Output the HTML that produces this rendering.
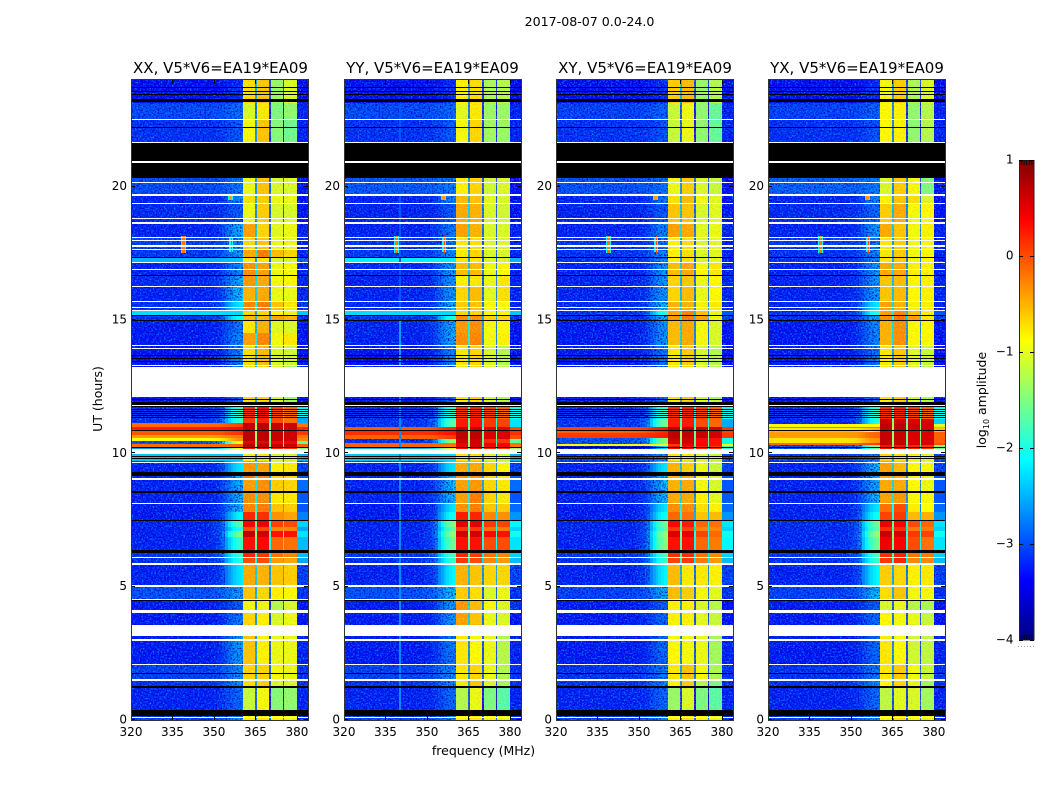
<!DOCTYPE html>
<html lang="en">
<head>
<meta charset="utf-8">
<title>2017-08-07 0.0-24.0</title>
<style>
html,body{margin:0;padding:0;background:#fff;width:1050px;height:800px;overflow:hidden}
svg{display:block}
text{font-family:"DejaVu Sans","Liberation Sans",sans-serif;fill:#000}
</style>
</head>
<body>
<svg id="chart" xmlns="http://www.w3.org/2000/svg" width="1050" height="800" viewBox="0 0 1050 800">
<defs>
<filter id="speckle0" x="0" y="0" width="100%" height="100%" color-interpolation-filters="sRGB"><feTurbulence type="fractalNoise" baseFrequency="0.62" numOctaves="2" seed="3" result="n"/><feColorMatrix in="n" type="matrix" values="0 0 0 0 0  0 0 0 0 0.55  0 0 0 0 1  3.2 0 0 0 -1.5" result="a"/><feColorMatrix in="n" type="matrix" values="0 0 0 0 0  0 0 0 0 0  0 0 0 0 0.72  0 3.2 0 0 -1.5" result="b"/><feMerge><feMergeNode in="a"/><feMergeNode in="b"/></feMerge></filter>
<filter id="speckle1" x="0" y="0" width="100%" height="100%" color-interpolation-filters="sRGB"><feTurbulence type="fractalNoise" baseFrequency="0.62" numOctaves="2" seed="11" result="n"/><feColorMatrix in="n" type="matrix" values="0 0 0 0 0  0 0 0 0 0.55  0 0 0 0 1  3.2 0 0 0 -1.5" result="a"/><feColorMatrix in="n" type="matrix" values="0 0 0 0 0  0 0 0 0 0  0 0 0 0 0.72  0 3.2 0 0 -1.5" result="b"/><feMerge><feMergeNode in="a"/><feMergeNode in="b"/></feMerge></filter>
<filter id="speckle2" x="0" y="0" width="100%" height="100%" color-interpolation-filters="sRGB"><feTurbulence type="fractalNoise" baseFrequency="0.62" numOctaves="2" seed="23" result="n"/><feColorMatrix in="n" type="matrix" values="0 0 0 0 0  0 0 0 0 0.55  0 0 0 0 1  3.2 0 0 0 -1.5" result="a"/><feColorMatrix in="n" type="matrix" values="0 0 0 0 0  0 0 0 0 0  0 0 0 0 0.72  0 3.2 0 0 -1.5" result="b"/><feMerge><feMergeNode in="a"/><feMergeNode in="b"/></feMerge></filter>
<filter id="speckle3" x="0" y="0" width="100%" height="100%" color-interpolation-filters="sRGB"><feTurbulence type="fractalNoise" baseFrequency="0.62" numOctaves="2" seed="37" result="n"/><feColorMatrix in="n" type="matrix" values="0 0 0 0 0  0 0 0 0 0.55  0 0 0 0 1  3.2 0 0 0 -1.5" result="a"/><feColorMatrix in="n" type="matrix" values="0 0 0 0 0  0 0 0 0 0  0 0 0 0 0.72  0 3.2 0 0 -1.5" result="b"/><feMerge><feMergeNode in="a"/><feMergeNode in="b"/></feMerge></filter>
<filter id="speckleBand" x="0" y="0" width="100%" height="100%" color-interpolation-filters="sRGB"><feTurbulence type="fractalNoise" baseFrequency="0.7" numOctaves="1" seed="5" result="n"/><feColorMatrix in="n" type="matrix" values="0 0 0 0 1  0 0 0 0 0.5  0 0 0 0 0  2.6 0 0 0 -1.25" result="a"/><feColorMatrix in="n" type="matrix" values="0 0 0 0 0.85  0 0 0 0 1  0 0 0 0 0.2  0 2.6 0 0 -1.2" result="b"/><feMerge><feMergeNode in="a"/><feMergeNode in="b"/></feMerge></filter>
<linearGradient id="jetGradient" x1="0" y1="1" x2="0" y2="0"></linearGradient>
</defs>
<text x="589.5" y="26" font-size="12.6" text-anchor="middle">2017-08-07 0.0-24.0</text>
<text x="220.5" y="73" font-size="15" text-anchor="middle">XX, V5*V6=EA19*EA09</text>
<text x="432.5" y="73" font-size="15" text-anchor="middle">YY, V5*V6=EA19*EA09</text>
<text x="645" y="73" font-size="15" text-anchor="middle">XY, V5*V6=EA19*EA09</text>
<text x="857" y="73" font-size="15" text-anchor="middle">YX, V5*V6=EA19*EA09</text>
<text x="102" y="399" font-size="12.5" text-anchor="middle" transform="rotate(-90 102 399)">UT (hours)</text>
<text x="483.5" y="755" font-size="12.5" text-anchor="middle">frequency (MHz)</text>
<text x="986" y="400" font-size="12.5" text-anchor="middle" transform="rotate(-90 986 400)">log<tspan font-size="8" dy="3">10</tspan><tspan dy="-3"> amplitude</tspan></text>
<g id="panels"></g>
<g id="colorbar"></g>
</svg>
<script>
// Axis settings and tick labels
const xTicks = [320, 335, 350, 365, 380];
const yTicks = [0, 5, 10, 15, 20];
const colorbarTicks = [1, 0, -1, -2, -3, -4];
const colorbarCombSlots = [0, 1, 2, 3, 4];
const panelLeft = [131, 344, 556, 768];

// Frequency structure (MHz): four bright subbands with narrow gaps between them
const subbandEdges = [[360.5, 365], [365.5, 370], [370.5, 375], [375.5, 380]];
const gapDrop = [2.0, 2.2, 2.0];
const subbandBias = -0.08;
const quietLowBias = -0.15;
const quietEdgeBias = -0.35;
// Rise of the band-edge skirt per MHz from 344 MHz to 360 MHz
const skirtProfile = [0, 0, 0, 0, 0.02, 0.05, 0.08, 0.12, 0.2, 0.3, 0.45, 0.6, 0.72, 0.82, 0.9, 0.95, 1];

// Flagged time ranges shared by every polarization [start hour, end hour]
const whiteBands = [[0.08,0.12],[1.46,1.54],[2.06,2.1],[2.96,3.04],[3.15,3.55],[4.01,4.12],[4.52,4.55],[5,5.06],[5.83,5.89],[6.07,6.11],[8.1,8.14],[9,9.06],[9.64,9.69],[9.99,10.17],[11.77,11.81],[12.11,13.24],[13.28,13.31],[13.91,13.95],[14.02,14.06],[15.34,15.38],[15.43,15.47],[15.67,15.71],[16.26,16.29],[16.88,16.92],[17.14,17.17],[17.62,17.66],[17.73,17.8],[17.97,18.01],[18.06,18.1],[18.58,18.62],[18.64,18.68],[18.78,18.82],[19.36,19.4],[19.66,19.71],[20.14,20.18],[20.9,20.95],[21.62,21.66],[22.48,22.52]];
const blackBands = [[0.15,0.37],[1.2,1.27],[1.72,1.76],[4.47,4.51],[6.28,6.38],[7.46,7.5],[8.53,8.57],[9.15,9.3],[9.79,9.82],[9.86,9.89],[10.2,10.24],[10.83,10.86],[11.33,11.36],[11.41,11.44],[11.48,11.51],[11.56,11.59],[11.63,11.66],[11.72,11.77],[11.81,11.94],[12.01,12.04],[13.42,13.46],[13.54,13.57],[13.65,13.69],[14.96,15],[15.15,15.19],[16.65,16.69],[17.32,17.36],[20.32,20.9],[20.95,21.62],[22.19,22.23],[23.16,23.28],[23.42,23.46],[23.54,23.58],[23.69,23.73]];

// Interference features: [first MHz, last MHz, start hour, end hour, log amplitude]
const interference = [[338,340,17.5,18.15,-2.1],[338.5,339.5,17.5,18.15,-0.2],[355.5,357,17.55,18.1,-2.1],[356,356.5,17.5,18.15,0],[355,357,19.5,19.7,-2],[355.5,356.5,19.5,19.7,-0.4]];
const verticalLineYY = [[340,340.5,0.37,12.1,-2.7],[340,340.5,13.3,15,-2.6],[340,340.5,15.4,23.1,-2.95]];

// Time rows per polarization: [start hour, end hour, low band, skirt, subband 1-4, upper edge] in log10 amplitude
const rowsXX = [
[0,.37,-2.9,-2.6,-.8,-.7,-.8,-.9,-2.8],[.37,1.27,-3.1,-2.8,-1.1,-.85,-1.45,-1.4,-2.9],[1.27,1.5,-3,-2.6,-.65,-.55,-1,-1,-2.8],[1.5,2.06,-2.9,-2.6,-.6,-.6,-.85,-.9,-2.8],[2.06,3.15,-3.15,-2.5,-.5,-.75,-.9,-.9,-2.9],[3.15,4.01,-3.15,-2.7,-.6,-.75,-1,-.9,-3],[4.01,4.5,-3.15,-2.9,-.85,-.9,-1.2,-1,-3],[4.5,5.02,-2.8,-2.5,-.5,-.6,-.75,-.8,-2.8],[5.02,5.85,-3.1,-2.2,-.35,-.4,-.5,-.55,-2.7],[5.85,6.07,-3,-1.9,0,0,-.3,-.35,-2.2],[6.07,6.37,-3,-1.8,.2,.1,-.1,-.2,-2.1],[6.37,6.86,-3.1,-1.8,.3,.35,-.05,-.1,-2.1],[6.86,7.09,-3.1,-1.4,.7,.6,.3,.3,-1.9],[7.09,7.24,-3.1,-1.9,0,0,-.2,-.2,-2.2],[7.24,7.5,-3.1,-1.6,.4,.45,.05,0,-2],[7.5,7.8,-3.15,-2.1,.2,.15,-.25,-.35,-2.4],[7.8,8.14,-3.15,-2.3,-.15,-.1,-.5,-.55,-2.6],[8.14,8.55,-3.1,-2.4,-.2,-.2,-.7,-.7,-2.6],[8.55,9,-3.1,-2.4,-.3,-.2,-.55,-.6,-2.5],[9,9.26,-3.1,-2.4,-.1,-.2,-.6,-.6,-2.6],[9.26,9.71,-3.1,-2.2,-.25,-.3,-.75,-.7,-2.7],[9.71,10.17,-2.4,-2.4,-.75,-.7,-1,-1,-2.5],
[10.17,10.22,-2.6,-1,.3,.3,.2,.1,-1.5],[10.22,10.35,-.15,-.1,.7,.7,.65,.6,-.1],[10.35,10.47,-2.8,-.8,.5,.5,.4,.4,-1.3],[10.47,10.57,-.9,-.3,.7,.7,.65,.6,-.3],[10.57,10.69,-.4,-.2,.7,.7,.65,.6,-.2],[10.69,10.84,-.05,.15,.7,.7,.65,.6,.1],[10.84,11,.25,.35,.7,.7,.65,.6,.2],[11,11.15,-.15,.05,.7,.7,.65,.6,-.2],[11.15,11.31,-3,-1.8,.1,.2,0,-.1,-2.2],
[11.31,11.8,-3,-1.8,.15,.3,.05,-.05,-1.7],[11.8,13.31,-3.2,-2.8,-.65,-.6,-1,-1.3,-3],[13.31,14.02,-3.2,-2.6,-.65,-.45,-1,-1.05,-3],[14.02,14.51,-3.15,-2.6,-.3,-.15,-.85,-.7,-3],[14.51,14.96,-3.15,-2.7,-.7,-.4,-.95,-1,-3],[14.96,15.15,-3,-2,-.45,-.45,-.3,-.4,-2.8],[15.15,15.34,-2.3,-2.3,-.6,-.6,-.8,-.9,-2.4],[15.34,15.71,-3,-2.2,-.15,-.1,-.5,-.7,-2.8],[15.71,16.24,-3.1,-2.3,-.4,-.35,-.9,-.9,-2.9],[16.24,16.65,-3.05,-2.4,-.25,-.35,-.85,-.8,-2.9],[16.65,17.14,-3.1,-2.6,-.2,-.3,-.9,-.85,-2.9],[17.14,17.36,-2.5,-2.4,-.7,-.7,-1,-1,-2.8],[17.36,17.66,-2.95,-2.5,-.35,-.1,-.45,-.6,-2.9],[17.66,18.07,-2.9,-2.6,-.6,-.5,-.9,-.9,-2.9],[18.07,18.6,-3.1,-2.4,-.3,-.6,-.95,-.9,-2.9],[18.6,19.39,-3.05,-2.9,-.9,-.55,-1,-1,-3],[19.39,19.69,-3.1,-2.6,-.65,-.55,-.9,-.9,-3],[19.69,20.32,-2.85,-2.7,-.9,-.5,-1,-1,-3],[20.32,22.5,-3,-2.9,-.85,-.5,-1.45,-1.6,-2.9],[22.5,23.13,-2.85,-2.8,-1,-.7,-1.5,-1.4,-2.9],[23.13,24,-3.25,-3.2,-.65,-.5,-1.35,-1,-3.1]];
const rowsYY = [
[0,.37,-2.9,-2.6,-.8,-.7,-.8,-.9,-2.8],[.37,1.27,-3.1,-2.8,-1.2,-.9,-1.5,-1.7,-2.9],[1.27,1.5,-3,-2.6,-.7,-.5,-1,-1.3,-2.8],[1.5,2.06,-2.9,-2.6,-.7,-.6,-.9,-1.2,-2.8],[2.06,3.15,-3.15,-2.7,-.7,-.8,-.9,-1.2,-2.9],[3.15,4.01,-3.15,-2.5,-.3,-.5,-.9,-1,-3],[4.01,4.5,-3.15,-2.5,-.25,-.45,-.8,-1,-2.8],[4.5,5.02,-2.8,-2.3,-.55,-.65,-1,-.9,-2.8],[5.02,5.85,-3.1,-2.1,-.4,-.5,-.6,-.6,-2.7],[5.85,6.07,-3,-1.8,.1,0,-.2,-.3,-2.1],[6.07,6.37,-3,-1.7,.2,.1,-.1,-.2,-2],[6.37,6.86,-3.1,-1.5,.3,.3,0,0,-1.9],[6.86,7.09,-3.1,-1.3,.6,.6,.35,.3,-1.7],[7.09,7.24,-3.1,-1.6,.1,.1,-.1,-.15,-2],[7.24,7.5,-3.1,-1.4,.5,.5,.1,.05,-1.8],[7.5,7.8,-3.15,-2,.25,.2,-.2,-.25,-2.3],[7.8,8.14,-3.15,-2.2,-.2,-.1,-.5,-.55,-2.5],[8.14,8.55,-3.1,-2.3,-.3,-.1,-.6,-.7,-2.6],[8.55,9,-3.1,-2.3,-.3,-.25,-.6,-.7,-2.5],[9,9.26,-3.1,-2.3,-.2,-.2,-.6,-.7,-2.6],[9.26,9.71,-3.1,-2.2,-.35,-.35,-.6,-.8,-2.7],[9.71,10.16,-2.4,-2.3,-.7,-.65,-1,-1.1,-2.5],
[10.16,10.22,-2.5,-1,.3,.3,.2,.1,-1.4],[10.22,10.37,-.1,-.2,.5,.6,.45,.4,-.2],[10.37,10.53,-3,-1.3,.6,.6,.2,.1,-1.3],[10.53,10.69,-.1,.1,.7,.7,.55,.55,0],[10.69,10.85,.15,.3,.7,.7,.55,.55,.15],[10.85,10.97,-.05,.2,.65,.65,.5,.5,0],[10.97,11.27,-3,-1.6,.25,.3,.1,.05,-1.9],
[11.27,11.8,-3,-1.8,.1,.2,.05,-.05,-1.7],[11.8,13.31,-3.2,-2.8,-.7,-.6,-1,-1.2,-3],[13.31,14.02,-3.2,-2.6,-.7,-.6,-1,-1.2,-3],[14.02,14.51,-3.1,-2.4,-.2,-.15,-.85,-.75,-3],[14.51,14.96,-3.1,-2.4,-.25,-.2,-.85,-.8,-3],[14.96,15.15,-3,-1.9,-.2,-.2,-.6,-.6,-2.8],[15.15,15.34,-2.3,-2.3,-.6,-.6,-.8,-.8,-2.4],[15.34,15.71,-3.05,-2.4,-.55,-.5,-.8,-.8,-2.9],[15.71,16.24,-3.1,-2.5,-.6,-.45,-.95,-.65,-2.9],[16.24,16.65,-3.1,-2.5,-.75,-.7,-.9,-.7,-2.9],[16.65,17.14,-3.05,-2.5,-.45,-.45,-.9,-.8,-2.9],[17.14,17.36,-2.2,-2.2,-.7,-.7,-1,-1,-2.5],[17.36,17.66,-2.95,-2.6,-.7,-.6,-1,-1,-2.9],[17.66,18.07,-3,-2.7,-.7,-.65,-1,-1,-2.9],[18.07,18.6,-3.1,-2.7,-.3,-.4,-1,-1,-2.9],[18.6,19.39,-3.1,-2.9,-.35,-.4,-1,-1.05,-3],[19.39,19.69,-3.1,-2.6,-.45,-.5,-.95,-1,-3],[19.69,20.32,-2.75,-2.7,-.75,-.6,-1.05,-1,-3],[20.32,22.5,-3,-2.9,-.85,-.6,-1.3,-1.35,-2.9],[22.5,23.13,-2.85,-2.8,-.95,-.7,-1.35,-1.35,-2.9],[23.13,24,-3.25,-3.2,-.75,-.65,-1.25,-1.2,-3.1]];
const rowsXY = [
[0,.37,-2.9,-2.6,-.8,-.7,-.8,-.9,-2.8],[.37,1.27,-3.1,-2.8,-1.35,-1,-1.5,-1.7,-2.9],[1.27,1.5,-3,-2.6,-.8,-.55,-1.2,-1.5,-2.8],[1.5,2.06,-3,-2.7,-.7,-.5,-.85,-1.25,-2.8],[2.06,3.15,-3.15,-2.8,-.8,-.85,-.9,-1.3,-2.9],[3.15,4.01,-3.15,-2.8,-.75,-.75,-.95,-1.1,-3],[4.01,4.5,-3.15,-2.9,-.75,-.75,-1,-1.2,-3],[4.5,5.02,-2.9,-2.4,-.45,-.55,-.85,-.95,-2.8],[5.02,5.85,-3.1,-2.1,-.45,-.7,-.7,-.75,-2.7],[5.85,6.07,-3,-1.8,.05,.1,-.15,-.3,-2.1],[6.07,6.37,-3,-1.7,.15,.15,-.1,-.2,-2],[6.37,6.86,-3.1,-1.4,.3,.3,-.05,-.15,-1.8],[6.86,7.09,-3.1,-1.3,.55,.5,.05,-.05,-1.7],[7.09,7.24,-3.1,-1.6,.1,.05,-.2,-.2,-2],[7.24,7.5,-3.1,-1.5,.35,.25,-.05,-.1,-1.9],[7.5,7.8,-3.15,-2,-.05,-.1,-.5,-.45,-2.3],[7.8,8.14,-3.15,-2.2,-.2,-.2,-.65,-.75,-2.5],[8.14,8.55,-3.1,-2.3,-.35,-.35,-.75,-.95,-2.6],[8.55,9,-3.1,-2.3,-.4,-.35,-.85,-1,-2.6],[9,9.26,-3.1,-2.4,-.4,-.35,-.85,-1,-2.6],[9.26,9.71,-3.1,-2.2,-.4,-.55,-.9,-1.1,-2.7],[9.71,10.16,-2.9,-2.6,-.7,-.7,-1,-1.1,-2.7],
[10.16,10.27,-3.6,-2.2,.3,.3,.2,.1,-1.5],[10.27,10.34,-.85,-1,.1,.5,.4,.3,-.9],[10.34,10.56,-2.8,-1.4,.6,.6,.35,.3,-1.7],[10.56,10.75,.1,.25,.7,.7,.65,.6,.1],[10.75,10.85,-.1,.2,.7,.7,.65,.6,.05],[10.85,10.97,.05,.25,.7,.7,.65,.6,.1],[10.97,11.29,-3,-1.5,.25,.25,0,-.05,-2.2],
[11.29,11.8,-3,-1.8,.15,.2,.05,-.05,-1.7],[11.8,13.31,-3.2,-2.8,-.7,-.55,-1,-1.2,-3],[13.31,14.02,-3.15,-2.7,-.7,-.55,-1,-1.2,-3],[14.02,14.96,-3.15,-2.5,-.45,-.35,-.85,-1,-3],[14.96,15.15,-3.05,-2.4,-.25,-.1,-.3,-.9,-2.7],[15.15,15.34,-3,-1.9,-.35,-.15,-.5,-.9,-2.6],[15.34,15.71,-3.05,-2.3,-.4,-.4,-.75,-.7,-2.9],[15.71,16.24,-3.1,-2.5,-.6,-.45,-.9,-.8,-2.9],[16.24,16.65,-3.1,-2.5,-.6,-.5,-.9,-.8,-2.9],[16.65,17.14,-3.1,-2.5,-.45,-.35,-.8,-.7,-2.9],[17.14,17.36,-3,-2.6,-.75,-.65,-1,-.95,-2.9],[17.36,17.66,-3,-2.6,-.75,-.65,-1,-.95,-2.9],[17.66,18.07,-3,-2.7,-.75,-.65,-1,-.95,-2.9],[18.07,18.6,-3.1,-2.6,-.3,-.35,-.95,-.9,-2.9],[18.6,19.39,-3.1,-2.9,-.5,-.5,-1,-.95,-3],[19.39,19.69,-3.1,-2.7,-.65,-.45,-.85,-.95,-3],[19.69,20.32,-2.8,-2.75,-.9,-.55,-1,-1.1,-3],[20.32,22.5,-3,-2.95,-1.1,-.9,-1.4,-1.65,-2.9],[22.5,23.13,-2.9,-2.85,-1.1,-.9,-1.4,-1.65,-2.9],[23.13,24,-3.25,-3.2,-.55,-.45,-1.35,-1.2,-3.1]];
const rowsYX = [
[0,.37,-2.9,-2.6,-.8,-.7,-.8,-.9,-2.8],[.37,1.27,-3.1,-2.8,-1.15,-.95,-1,-1.3,-2.9],[1.27,1.5,-3,-2.6,-.8,-.6,-.95,-1.3,-2.8],[1.5,2.06,-3,-2.7,-.7,-.55,-.85,-1.1,-2.8],[2.06,3.15,-3.15,-2.8,-.7,-.8,-1.05,-1.15,-2.9],[3.15,4.01,-3.15,-2.8,-.8,-.85,-.9,-1.1,-3],[4.01,4.5,-3.15,-2.9,-1,-.9,-1.2,-1.25,-3],[4.5,5.02,-2.9,-2.3,-.65,-.5,-.85,-.85,-2.8],[5.02,5.85,-3.1,-2.1,-.55,-.6,-.75,-.7,-2.7],[5.85,6.07,-3,-1.8,.1,.2,-.2,-.2,-2.1],[6.07,6.37,-3,-1.7,.15,.2,-.1,-.15,-2],[6.37,6.86,-3.05,-1.5,.45,.4,0,-.1,-1.9],[6.86,7.09,-3.05,-1.3,.65,.6,.1,.05,-1.7],[7.09,7.24,-3.05,-1.6,.15,.15,-.15,-.15,-2],[7.24,7.5,-3.05,-1.5,.45,.4,0,-.05,-1.9],[7.5,7.8,-3.1,-2,.05,.1,-.45,-.4,-2.3],[7.8,8.14,-3.1,-2.2,-.1,0,-.7,-.8,-2.5],[8.14,8.55,-3.1,-2.3,-.3,-.25,-.8,-.8,-2.6],[8.55,9,-3.1,-2.4,-.35,-.35,-.8,-.9,-2.6],[9,9.26,-3.1,-2.4,-.35,-.35,-.8,-.9,-2.6],[9.26,9.71,-3.1,-2.3,-.3,-.45,-.8,-.85,-2.7],[9.71,10.16,-2.9,-2.7,-.6,-.65,-.85,-1,-2.7],
[10.16,10.31,-2.8,-1.5,.3,.3,.2,.1,-1.2],[10.31,10.4,-.15,.1,.65,.65,.55,.55,0],[10.4,10.56,-.75,-.3,.65,.65,.55,.55,-.1],[10.56,10.79,-.4,-.1,.65,.65,.55,.55,-.1],[10.79,10.85,-2,-.6,.6,.6,.5,.5,-.5],[10.85,10.94,-.8,-.5,.7,.7,.6,.6,-.6],[10.94,11,-.2,-.2,.7,.7,.6,.6,-.5],[11,11.1,-.85,-.9,.7,.7,.6,.6,-1],[11.1,11.29,-3.1,-1.9,.6,.6,.55,.55,-2],
[11.29,11.8,-3,-1.8,.15,.2,.05,-.05,-1.7],[11.8,13.31,-3.2,-2.8,-.7,-.55,-1,-1.2,-3],[13.31,14.02,-3.15,-2.7,-.7,-.55,-.95,-1.1,-3],[14.02,14.96,-3.15,-2.6,-.4,-.2,-.8,-.8,-3],[14.96,15.15,-3.05,-2.4,-.2,-.05,-.3,-.7,-2.7],[15.15,15.34,-3,-1.9,-.3,-.15,-.5,-.75,-2.6],[15.34,15.71,-3.05,-2.2,-.3,-.4,-.75,-.75,-2.9],[15.71,16.24,-3.1,-2.5,-.5,-.45,-.8,-.75,-2.9],[16.24,16.65,-3.1,-2.5,-.5,-.45,-.8,-.75,-2.9],[16.65,17.14,-3.1,-2.5,-.35,-.35,-.75,-.75,-2.9],[17.14,17.36,-3,-2.6,-.7,-.55,-.85,-.8,-2.9],[17.36,17.66,-3,-2.6,-.7,-.55,-.85,-.8,-2.9],[17.66,18.07,-2.95,-2.7,-.7,-.55,-.85,-.8,-2.9],[18.07,18.6,-3.1,-2.5,-.35,-.5,-.85,-.75,-2.9],[18.6,19.39,-3.05,-2.8,-.55,-.35,-.85,-.8,-3],[19.39,19.69,-3.1,-2.6,-.75,-.5,-.65,-1,-3],[19.69,20.32,-2.7,-2.7,-1,-.55,-.85,-1.5,-3],[20.32,22.5,-3,-2.95,-.8,-.75,-1.4,-1.2,-2.9],[22.5,23.13,-2.9,-2.85,-.8,-.75,-1.4,-1.2,-2.9],[23.13,24,-3.25,-3.2,-.85,-.55,-1.25,-1,-3.1]];

const panelRows = [rowsXX, rowsYY, rowsXY, rowsYX];
const panelKeys = ['xx', 'yy', 'xy', 'yx'];
const panelExtras = [[], verticalLineYY, [], []];

const SVGNS = 'http://www.w3.org/2000/svg';
const channelWidth = 0.5;
const channelCount = 128;
const yScale = h => 720 - h * 26.67;
const xScale = (f, p) => panelLeft[p] + (f - 320) * 177 / 64;

function clamp01(v) { return Math.max(0, Math.min(1, v)); }
function jetColor(v) {
  const t = clamp01((v + 4) / 5);
  const r = clamp01(1.5 - Math.abs(4 * t - 3));
  const g = clamp01(1.5 - Math.abs(4 * t - 2));
  const b = clamp01(1.5 - Math.abs(4 * t - 1));
  return 'rgb(' + Math.round(r * 255) + ',' + Math.round(g * 255) + ',' + Math.round(b * 255) + ')';
}
function channelValue(row, f) {
  for (let s = 0; s < subbandEdges.length; s++) {
    if (f >= subbandEdges[s][0] && f < subbandEdges[s][1]) return row[4 + s] + (row[4 + s] < 0 ? subbandBias : 0);
    if (s < gapDrop.length && f >= subbandEdges[s][1] && f < subbandEdges[s + 1][0]) {
      return (row[4 + s] + row[5 + s]) / 2 - gapDrop[s];
    }
  }
  const quiet = row[2] < -2.6;
  if (f >= 380) return row[8] + (quiet ? quietEdgeBias : 0);
  const idx = Math.floor(f) - 344;
  const weight = idx < 0 ? 0 : skirtProfile[Math.min(idx, skirtProfile.length - 1)];
  const low = row[2] + (quiet ? quietLowBias : 0);
  return low + (row[3] - low) * weight;
}
// Snap a data-space box to whole pixels so bands and cells stay crisp
function addBox(parent, xa, ya, xb, yb, fill) {
  const el = document.createElementNS(SVGNS, 'rect');
  const x0 = Math.round(xa);
  const y0 = Math.round(ya);
  el.setAttribute('x', x0);
  el.setAttribute('y', y0);
  el.setAttribute('width', Math.max(1, Math.round(xb) - x0));
  el.setAttribute('height', Math.max(1, Math.round(yb) - y0));
  el.setAttribute('fill', fill);
  parent.appendChild(el);
  return el;
}
function addLine(parent, x1, y1, x2, y2, stroke, width) {
  const el = document.createElementNS(SVGNS, 'line');
  el.setAttribute('x1', x1);
  el.setAttribute('y1', y1);
  el.setAttribute('x2', x2);
  el.setAttribute('y2', y2);
  el.setAttribute('stroke', stroke);
  el.setAttribute('stroke-width', width);
  parent.appendChild(el);
  return el;
}
function addText(parent, x, y, str, anchor) {
  const el = document.createElementNS(SVGNS, 'text');
  el.setAttribute('x', x);
  el.setAttribute('y', y);
  el.setAttribute('font-size', '12');
  el.setAttribute('text-anchor', anchor);
  el.textContent = str;
  parent.appendChild(el);
  return el;
}

const panelsGroup = document.getElementById('panels');
panelRows.forEach(function (rows, p) {
  const left = panelLeft[p];
  const right = xScale(384, p);
  const key = panelKeys[p];
  const g = document.createElementNS(SVGNS, 'g');
  
  
  g.setAttribute('shape-rendering', 'crispEdges');
  panelsGroup.appendChild(g);

  rows.forEach(function (row) {
    const top = yScale(row[1]);
    const bottom = yScale(row[0]);
    for (let c = 0; c < channelCount; c++) {
      const f = 320 + c * channelWidth;
      const cell = addBox(g, xScale(f, p), top, xScale(f + channelWidth, p), bottom, jetColor(channelValue(row, f)));
      
      
    }
  });
  rows.forEach(function (row) {
    const top = yScale(row[1]);
    const bottom = yScale(row[0]);
    if (row[2] < -2.6) {
      const lowEnd = row[3] < -2.2 ? 360.5 : 354;
      const lowSpeckle = addBox(g, left, top, xScale(lowEnd, p), bottom, '#000');
      lowSpeckle.setAttribute('filter', 'url(#speckle' + p + ')');
      
      
    }
    if (row[8] < -2.6) {
      const edgeSpeckle = addBox(g, xScale(380, p), top, right, bottom, '#000');
      edgeSpeckle.setAttribute('filter', 'url(#speckle' + p + ')');
      
      
    }
    if (row[4] < -0.1) {
      const bandSpeckle = addBox(g, xScale(360.5, p), top, xScale(380, p), bottom, '#000');
      bandSpeckle.setAttribute('filter', 'url(#speckleBand)');
      bandSpeckle.setAttribute('opacity', '0.5');
      
      
    }
  });
  interference.concat(panelExtras[p]).forEach(function (spot) {
    const mark = addBox(g, xScale(spot[0], p), yScale(spot[3]), xScale(spot[1], p), yScale(spot[2]), jetColor(spot[4]));
    
    
  });
  whiteBands.forEach(function (band) {
    const mark = addBox(g, left, yScale(band[1]), right, yScale(band[0]), '#fff');
    
    
  });
  blackBands.forEach(function (band) {
    const mark = addBox(g, left, yScale(band[1]), right, yScale(band[0]), '#000');
    
    
  });

  xTicks.forEach(function (tick) {
    const x = Math.round(xScale(tick, p)) + 0.5;
    const bottomTick = addLine(g, x, 720, x, 716, '#000', 1);
    
    
    const topTick = addLine(g, x, 80, x, 84, '#000', 1);
    
    
    const label = addText(panelsGroup, xScale(tick, p), 736, String(tick), 'middle');
    
    
  });
  yTicks.forEach(function (tick) {
    const y = Math.round(yScale(tick)) - 0.5;
    const leftTick = addLine(g, left, y, left + 4, y, '#000', 1);
    
    
    const rightTick = addLine(g, right, y, right - 4, y, '#000', 1);
    
    
    const label = addText(panelsGroup, left - 4, yScale(tick) + 3.5, String(tick), 'end');
    
    
  });
  const frame = document.createElementNS(SVGNS, 'rect');
  frame.setAttribute('x', left + 0.5);
  frame.setAttribute('y', 79.5);
  frame.setAttribute('width', 177);
  frame.setAttribute('height', 641);
  frame.setAttribute('fill', 'none');
  frame.setAttribute('stroke', '#333');
  frame.setAttribute('stroke-width', '1');
  
  
  g.appendChild(frame);
});

// Colorbar
const cbGroup = document.getElementById('colorbar');
const cbScale = v => 640 - (v + 4) * 96;
const grad = document.getElementById('jetGradient');
for (let i = 0; i <= 40; i++) {
  const stop = document.createElementNS(SVGNS, 'stop');
  stop.setAttribute('offset', (i / 40).toFixed(3));
  stop.setAttribute('stop-color', jetColor(-4 + 5 * i / 40));
  grad.appendChild(stop);
}
const cbBar = addBox(cbGroup, 1019, 160, 1034, 640, 'url(#jetGradient)');


const cbFrame = document.createElementNS(SVGNS, 'rect');
cbFrame.setAttribute('x', 1019.5);
cbFrame.setAttribute('y', 160.5);
cbFrame.setAttribute('width', 14.5);
cbFrame.setAttribute('height', 479.5);
cbFrame.setAttribute('fill', 'none');
cbFrame.setAttribute('stroke', '#222');
cbFrame.setAttribute('stroke-width', '1');


cbGroup.appendChild(cbFrame);
colorbarTicks.forEach(function (tick) {
  const y = Math.round(cbScale(tick)) + 0.5;
  const leftTick = addLine(cbGroup, 1019, y, 1023, y, '#000', 1);
  
  
  const rightTick = addLine(cbGroup, 1034, y, 1030, y, '#000', 1);
  
  
  const label = addText(cbGroup, 1013.5, cbScale(tick) + 3.5, String(tick).replace('-', '\u2212'), 'end');
  
  
});
colorbarCombSlots.forEach(function (slot) {
  const x = 1021.5 + slot * 2.6;
  const topComb = addLine(cbGroup, x, 160, x, 165, '#000', 0.8);
  
  
  const bottomComb = addLine(cbGroup, x, 640, x, 635, '#000', 0.8);
  
  
});
const cbDots = addLine(cbGroup, 1018, 646.5, 1035, 646.5, '#999', 1);
cbDots.setAttribute('stroke-dasharray', '1 2');


</script>
</body>
</html>
